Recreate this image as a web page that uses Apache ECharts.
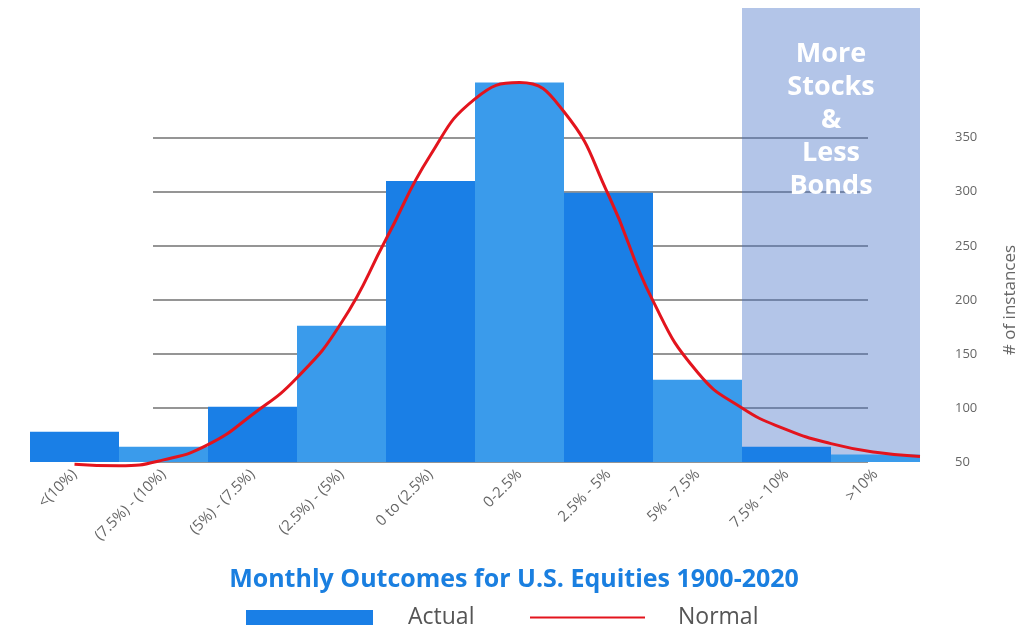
<!DOCTYPE html>
<html>
<head>
<meta charset="utf-8">
<script src="https://cdn.jsdelivr.net/npm/echarts@6/dist/echarts.min.js"></script>
<style>
html,body{margin:0;padding:0;background:#fff;}
#chart{width:1028px;height:627px;}
</style>
</head>
<body>
<div id="chart"></div>
<script>
// Histogram bins and counts (# of instances)
const categories = ['<(10%)', '(7.5%) - (10%)', '(5%) - (7.5%)', '(2.5%) - (5%)', '0 to (2.5%)', '0-2.5%', '2.5% - 5%', '5% - 7.5%', '7.5% - 10%', '>10%'];
const actual = [78, 64, 101, 176, 310, 401, 299, 126, 64, 57];
// Normal curve, every half bin: position in bin units (0 = left edge of first bin), value
const normalPos = [0.5, 1.0, 1.5, 2.0, 2.5, 3.0, 3.5, 4.0, 4.5, 5.0, 5.5, 6.0, 6.5, 7.0, 7.5, 8.0, 8.5, 9.0, 9.5, 10.0];
const normalVal = [48, 46.5, 52, 66, 94, 128, 179, 256, 334, 386, 401, 374, 297, 199, 133, 100, 80, 67, 59, 55];
const zoneFrom = '7.5% - 10%';
const zoneTo = '>10%';
const zoneText = 'More\nStocks\n&\nLess\nBonds';
const titleText = 'Monthly Outcomes for U.S. Equities 1900-2020';
const yName = '# of instances';

const FONT = '"Open Sans", sans-serif';
const DARK = '#1a7fe6';
const LIGHT = '#3a9beb';
const RED = '#e3141d';

const normalData = normalPos.map((p, i) => [p, normalVal[i]]);
const zoneStart = categories.indexOf(zoneFrom);
const zoneEnd = categories.indexOf(zoneTo) + 1;

const chart = echarts.init(document.getElementById('chart'));
chart.setOption({
  backgroundColor: '#ffffff',
  animation: false,
  title: {
    text: titleText,
    left: 'center',
    top: 562,
    textStyle: { fontFamily: FONT, fontSize: 25, fontWeight: 'bold', color: '#1a7fe0' }
  },
  legend: [
    {
      data: [{ name: 'Actual', icon: 'rect', itemStyle: { color: DARK } }],
      left: 241, top: 601,
      itemWidth: 127, itemHeight: 15,
      textStyle: { fontFamily: FONT, fontSize: 23, color: '#555', padding: [0, 0, 0, 30] }
    },
    {
      data: [{ name: 'Normal', itemStyle: { opacity: 0 } }],
      left: 524, top: 601,
      itemWidth: 115, itemHeight: 15,
      textStyle: { fontFamily: FONT, fontSize: 23, color: '#555', padding: [0, 0, 0, 28] }
    }
  ],
  grid: [
    { left: 30, right: 108, top: 8, bottom: 165 },
    { left: 153, right: 160, top: 138, bottom: 165 }
  ],
  xAxis: [
    {
      type: 'category', gridIndex: 0, data: categories,
      axisLine: { show: false }, axisTick: { show: false },
      axisLabel: { interval: 0, rotate: 45, margin: 10, fontFamily: FONT, fontSize: 15, color: '#666' }
    },
    { type: 'value', gridIndex: 1, show: false, min: 0, max: 1 },
    { type: 'value', gridIndex: 0, show: false, min: 0, max: categories.length }
  ],
  yAxis: [
    {
      type: 'value', gridIndex: 0, position: 'right', min: 50, max: 470, interval: 50,
      splitLine: { show: false }, axisLine: { show: false }, axisTick: { show: false },
      axisLabel: {
        margin: 35, fontFamily: FONT, fontSize: 13, color: '#666',
        formatter: v => (v <= 350 ? String(v) : '')
      },
      name: yName, nameLocation: 'middle', nameRotate: 90, nameGap: 82,
      nameTextStyle: { fontFamily: FONT, fontSize: 17, color: '#666', padding: [0, 130, 0, 0] }
    },
    {
      type: 'value', gridIndex: 1, min: 50, max: 350, interval: 50,
      axisLabel: { show: false }, axisLine: { show: false }, axisTick: { show: false },
      splitLine: { show: true, lineStyle: { color: '#959595', width: 2 } }
    }
  ],
  series: [
    {
      name: 'Actual', type: 'bar', xAxisIndex: 0, yAxisIndex: 0,
      data: actual, barCategoryGap: 0, z: 2,
      itemStyle: { color: p => (p.dataIndex % 2 === 0 ? DARK : LIGHT) }
    },
    {
      name: 'Normal', type: 'line', xAxisIndex: 2, yAxisIndex: 0,
      data: normalData, smooth: 0.5, symbol: 'none', clip: false, z: 3,
      itemStyle: { color: RED },
      lineStyle: { color: RED, width: 3 }
    },
    {
      name: 'zone', type: 'line', xAxisIndex: 2, yAxisIndex: 0, data: [], z: 5, silent: true,
      markArea: {
        silent: true,
        itemStyle: { color: 'rgba(65,110,197,0.4)' },
        label: {
          show: true, position: 'insideTop', distance: 30,
          fontFamily: FONT, fontSize: 27, fontWeight: 'bold', lineHeight: 33, color: '#ffffff'
        },
        data: [[{ xAxis: zoneStart, name: zoneText }, { xAxis: zoneEnd }]]
      }
    }
  ]
});
</script>
</body>
</html>
